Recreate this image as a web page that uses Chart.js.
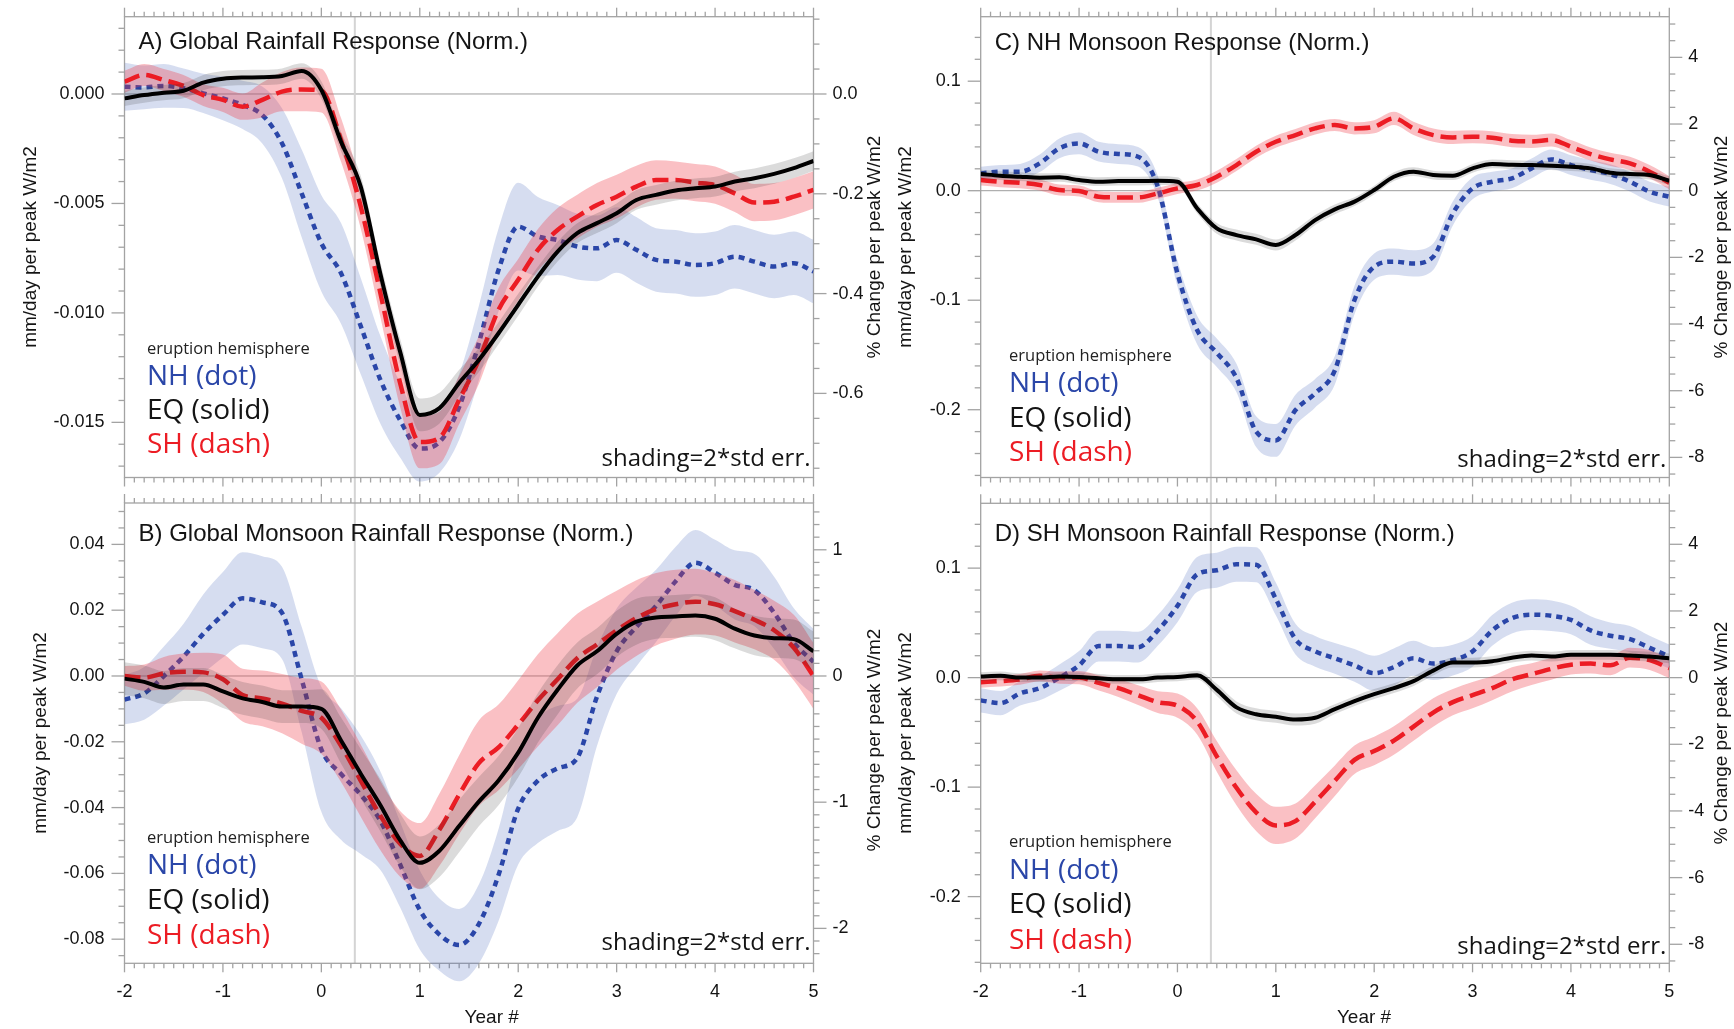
<!DOCTYPE html>
<html>
<head>
<meta charset="utf-8">
<script src="https://cdn.jsdelivr.net/npm/chart.js@4.4.1/dist/chart.umd.min.js"></script>
<style>
  body { margin: 0; background: #fff; width: 1734px; height: 1029px; overflow: hidden; position: relative; }
  canvas { position: absolute; left: 0; top: 0; }
</style>
</head>
<body>
<canvas id="panelA" width="1734" height="1029"></canvas>
<canvas id="panelB" width="1734" height="1029"></canvas>
<canvas id="panelC" width="1734" height="1029"></canvas>
<canvas id="panelD" width="1734" height="1029"></canvas>
<script>
// composite rainfall response after eruptions, split by eruption hemisphere

const YEARS = [-2.0, -1.8, -1.6, -1.4, -1.2, -1.0, -0.8, -0.6, -0.4, -0.2, 0.0, 0.2, 0.4, 0.6, 0.8, 1.0, 1.2, 1.4,
  1.6, 1.8, 2.0, 2.2, 2.4, 2.6, 2.8, 3.0, 3.2, 3.4, 3.6, 3.8, 4.0, 4.2, 4.4, 4.6, 4.8, 5.0];

// A) global rainfall
const A_NH = [0.00033, 0.00030, 0.00037, 0.00026, 0.00003, -0.00020, -0.00050, -0.00096, -0.00225, -0.00454, -0.00682,
  -0.00819, -0.01060, -0.01306, -0.01490, -0.01620, -0.01590, -0.01430, -0.01138, -0.00804, -0.00606, -0.00651, -0.00667,
  -0.00697, -0.00705, -0.00667, -0.00712, -0.00758, -0.00766, -0.00781, -0.00773, -0.00743, -0.00766, -0.00788, -0.00773, -0.00811];
const A_EQ = [-0.00020, -0.00005, 0.00006, 0.00015, 0.00052, 0.00070, 0.00075, 0.00076, 0.00082, 0.00105, 0.00018,
  -0.00218, -0.00423, -0.00822, -0.01177, -0.01466, -0.01435, -0.01320, -0.01215, -0.01093, -0.00963, -0.00834, -0.00720,
  -0.00636, -0.00590, -0.00545, -0.00484, -0.00461, -0.00441, -0.00431, -0.00423, -0.00400, -0.00385, -0.00365, -0.00339, -0.00306];
const A_SH = [0.00056, 0.00087, 0.00064, 0.00037, -0.00005, -0.00027, -0.00058, -0.00027, 0.00011, 0.00021, 0.00015,
  -0.00210, -0.00514, -0.00910, -0.01320, -0.01590, -0.01570, -0.01397, -0.01215, -0.00986, -0.00849, -0.00712, -0.00621,
  -0.00560, -0.00507, -0.00469, -0.00423, -0.00393, -0.00393, -0.00405, -0.00416, -0.00454, -0.00496, -0.00492, -0.00469, -0.00438];
const A_NH_ERR = [0.0011, 0.0010, 0.0010, 0.0009, 0.0009, 0.0010, 0.0011, 0.0013, 0.0016, 0.0020, 0.0022, 0.0023,
  0.0022, 0.0020, 0.0017, 0.0015, 0.0014, 0.0015, 0.0017, 0.0019, 0.0020, 0.0018, 0.0016, 0.0015, 0.0015, 0.0015,
  0.0015, 0.00145, 0.00145, 0.00145, 0.00145, 0.00145, 0.00145, 0.00145, 0.00145, 0.00145];
const A_EQ_ERR = [0.00035, 0.00035, 0.00035, 0.00035, 0.00035, 0.00035, 0.00035, 0.00035, 0.00035, 0.00035, 0.00040,
  0.00045, 0.00050, 0.00055, 0.00060, 0.00075, 0.00070, 0.00060, 0.00055, 0.00050, 0.00050, 0.00045, 0.00045, 0.00045,
  0.00045, 0.00045, 0.00045, 0.00045, 0.00045, 0.00045, 0.00045, 0.00045, 0.00045, 0.00045, 0.00045, 0.00045];
const A_SH_ERR = [0.0005, 0.0005, 0.0005, 0.0005, 0.0005, 0.00055, 0.0006, 0.0008, 0.0009, 0.0010, 0.0010, 0.0010,
  0.0010, 0.0011, 0.0011, 0.0012, 0.0012, 0.0011, 0.0011, 0.0010, 0.00095, 0.00095, 0.0010, 0.0010, 0.0010, 0.0010,
  0.00095, 0.0009, 0.00085, 0.00085, 0.00085, 0.00085, 0.00085, 0.00085, 0.00085, 0.00085];

// B) global monsoon rainfall
const B_NH = [-0.0072, -0.0053, 0.0000, 0.0059, 0.0128, 0.0186, 0.0236, 0.0224, 0.0192, -0.0010, -0.0223, -0.0298,
  -0.0361, -0.0440, -0.0573, -0.0711, -0.0786, -0.0818, -0.0754, -0.0605, -0.0403, -0.0318, -0.0281, -0.0249, -0.0063,
  0.0075, 0.0149, 0.0213, 0.0288, 0.0344, 0.0314, 0.0277, 0.0261, 0.0192, 0.0101, 0.0043];
const B_EQ = [-0.0008, -0.0018, -0.0035, -0.0026, -0.0026, -0.0047, -0.0068, -0.0079, -0.0093, -0.0093, -0.0100,
  -0.0196, -0.0297, -0.0393, -0.0499, -0.0568, -0.0531, -0.0456, -0.0382, -0.0318, -0.0233, -0.0127, -0.0042, 0.0032,
  0.0075, 0.0128, 0.0165, 0.0178, 0.0181, 0.0184, 0.0174, 0.0144, 0.0123, 0.0115, 0.0112, 0.0075];
const B_SH = [0.0000, -0.0005, 0.0008, 0.0013, 0.0011, -0.0010, -0.0058, -0.0068, -0.0084, -0.0106, -0.0127, -0.0212,
  -0.0318, -0.0425, -0.0510, -0.0547, -0.0467, -0.0361, -0.0265, -0.0217, -0.0148, -0.0074, -0.0010, 0.0054, 0.0096,
  0.0139, 0.0176, 0.0203, 0.0218, 0.0226, 0.0218, 0.0197, 0.0171, 0.0139, 0.0086, 0.0000];
const B_NH_ERR = [0.0075, 0.008, 0.009, 0.010, 0.012, 0.013, 0.014, 0.014, 0.014, 0.016, 0.019, 0.020, 0.018, 0.015,
  0.013, 0.012, 0.011, 0.011, 0.012, 0.014, 0.017, 0.019, 0.019, 0.018, 0.015, 0.013, 0.012, 0.011, 0.0105, 0.010,
  0.010, 0.0105, 0.011, 0.011, 0.0105, 0.010];
const B_EQ_ERR = [0.005, 0.005, 0.005, 0.005, 0.005, 0.005, 0.005, 0.005, 0.005, 0.005, 0.006, 0.007, 0.0075, 0.008,
  0.008, 0.008, 0.008, 0.008, 0.0075, 0.0075, 0.0075, 0.0075, 0.0075, 0.007, 0.007, 0.007, 0.007, 0.0065, 0.0065,
  0.0065, 0.0065, 0.006, 0.006, 0.006, 0.006, 0.006];
const B_SH_ERR = [0.003, 0.004, 0.005, 0.0055, 0.006, 0.0075, 0.008, 0.0085, 0.009, 0.010, 0.011, 0.011, 0.011, 0.0105,
  0.010, 0.010, 0.011, 0.012, 0.013, 0.013, 0.0135, 0.014, 0.014, 0.0135, 0.013, 0.012, 0.0115, 0.011, 0.0105, 0.010,
  0.0095, 0.0095, 0.009, 0.009, 0.010, 0.010];

// C) NH monsoon
const C_NH = [0.0158, 0.0174, 0.0174, 0.0250, 0.0387, 0.0432, 0.0356, 0.0335, 0.0310, 0.0037, -0.0755, -0.1272,
  -0.1480, -0.1710, -0.2200, -0.2280, -0.2003, -0.1850, -0.1640, -0.0998, -0.0694, -0.0648, -0.0664, -0.0603, -0.0207,
  0.0021, 0.0082, 0.0113, 0.0204, 0.0286, 0.0234, 0.0189, 0.0152, 0.0082, -0.0009, -0.0055];
const C_EQ = [0.0152, 0.0137, 0.0128, 0.0119, 0.0122, 0.0097, 0.0082, 0.0088, 0.0088, 0.0091, 0.0082, -0.0161,
  -0.0344, -0.0405, -0.0444, -0.0496, -0.0405, -0.0268, -0.0170, -0.0100, 0.0006, 0.0128, 0.0174, 0.0143, 0.0137,
  0.0204, 0.0244, 0.0237, 0.0234, 0.0228, 0.0219, 0.0204, 0.0164, 0.0152, 0.0143, 0.0091];
const C_SH = [0.0097, 0.0082, 0.0073, 0.0052, 0.0006, -0.0003, -0.0055, -0.0061, -0.0061, -0.0024, 0.0021, 0.0052,
  0.0128, 0.0234, 0.0356, 0.0447, 0.0508, 0.0569, 0.0600, 0.0569, 0.0584, 0.0661, 0.0569, 0.0508, 0.0487, 0.0493,
  0.0484, 0.0457, 0.0450, 0.0463, 0.0402, 0.0335, 0.0286, 0.0250, 0.0174, 0.0073];
const C_NH_ERR = [0.006, 0.006, 0.007, 0.008, 0.009, 0.010, 0.009, 0.009, 0.009, 0.010, 0.012, 0.013, 0.013, 0.013,
  0.014, 0.015, 0.014, 0.013, 0.013, 0.013, 0.012, 0.012, 0.012, 0.012, 0.011, 0.010, 0.009, 0.009, 0.009, 0.009,
  0.009, 0.009, 0.009, 0.009, 0.009, 0.009];
const C_EQ_ERR = [0.004, 0.004, 0.004, 0.004, 0.004, 0.004, 0.004, 0.004, 0.004, 0.004, 0.004, 0.0045, 0.005, 0.005,
  0.005, 0.005, 0.005, 0.0045, 0.0045, 0.004, 0.004, 0.004, 0.004, 0.004, 0.004, 0.004, 0.004, 0.004, 0.004, 0.004,
  0.004, 0.004, 0.004, 0.004, 0.004, 0.004];
const C_SH_ERR = [0.005, 0.005, 0.005, 0.005, 0.005, 0.005, 0.005, 0.005, 0.005, 0.005, 0.005, 0.005, 0.0055, 0.0055,
  0.0055, 0.0055, 0.0055, 0.0055, 0.0055, 0.0055, 0.006, 0.006, 0.006, 0.006, 0.006, 0.006, 0.006, 0.006, 0.006, 0.006,
  0.006, 0.006, 0.006, 0.006, 0.006, 0.006];

// D) SH monsoon
const D_NH = [-0.0208, -0.0233, -0.0144, -0.0096, 0.0000, 0.0112, 0.0288, 0.0288, 0.0278, 0.0431, 0.0655, 0.0942,
  0.0981, 0.1035, 0.1030, 0.0719, 0.0351, 0.0240, 0.0176, 0.0112, 0.0040, 0.0096, 0.0176, 0.0128, 0.0160, 0.0240,
  0.0431, 0.0543, 0.0575, 0.0565, 0.0527, 0.0431, 0.0383, 0.0351, 0.0272, 0.0192];
const D_EQ = [0.0010, 0.0016, 0.0000, 0.0000, 0.0010, 0.0006, -0.0006, -0.0016, -0.0016, 0.0000, 0.0006, 0.0022,
  -0.0112, -0.0272, -0.0335, -0.0358, -0.0383, -0.0367, -0.0288, -0.0214, -0.0150, -0.0096, -0.0032, 0.0064, 0.0137,
  0.0137, 0.0150, 0.0182, 0.0201, 0.0192, 0.0208, 0.0208, 0.0208, 0.0201, 0.0192, 0.0176];
const D_SH = [-0.0042, -0.0032, -0.0016, 0.0016, 0.0000, 0.0000, -0.0048, -0.0096, -0.0160, -0.0224, -0.0256, -0.0399,
  -0.0719, -0.1006, -0.1230, -0.1350, -0.1310, -0.1134, -0.0942, -0.0751, -0.0671, -0.0575, -0.0447, -0.0319, -0.0224,
  -0.0160, -0.0096, -0.0016, 0.0032, 0.0080, 0.0118, 0.0128, 0.0112, 0.0182, 0.0160, 0.0086];
const D_NH_ERR = [0.011, 0.011, 0.011, 0.011, 0.012, 0.013, 0.014, 0.014, 0.014, 0.014, 0.015, 0.016, 0.016, 0.016,
  0.016, 0.015, 0.014, 0.014, 0.014, 0.015, 0.016, 0.017, 0.016, 0.015, 0.014, 0.014, 0.014, 0.014, 0.014, 0.014,
  0.013, 0.013, 0.012, 0.012, 0.011, 0.011];
const D_EQ_ERR = [0.004, 0.004, 0.004, 0.004, 0.004, 0.004, 0.004, 0.004, 0.004, 0.004, 0.004, 0.004, 0.0055, 0.0055,
  0.0055, 0.0055, 0.0055, 0.0055, 0.0045, 0.0045, 0.0045, 0.0045, 0.0045, 0.0045, 0.0045, 0.0045, 0.0045, 0.0045,
  0.0045, 0.0045, 0.0045, 0.0045, 0.0045, 0.0045, 0.0045, 0.0045];
const D_SH_ERR = [0.005, 0.005, 0.005, 0.005, 0.0055, 0.006, 0.007, 0.008, 0.009, 0.010, 0.011, 0.012, 0.014, 0.016,
  0.017, 0.017, 0.016, 0.015, 0.014, 0.013, 0.013, 0.013, 0.013, 0.013, 0.012, 0.012, 0.011, 0.011, 0.010, 0.010,
  0.009, 0.009, 0.009, 0.009, 0.009, 0.009];

// axes
const X_RANGE = [-2, 5];
const X_TICKS = ['-2', '-1', '0', '1', '2', '3', '4', '5'];
const MARK_YEAR = 0.34;
const A_Y_RANGE = [-0.017519, 0.003531];
const B_Y_RANGE = [-0.08733, 0.05258];
const C_Y_RANGE = [-0.2619, 0.1589];
const D_Y_RANGE = [-0.2609, 0.1592];
const A_LEFT_TICKS = ['0.000', '-0.005', '-0.010', '-0.015'];
const A_RIGHT_TICKS = ['0.0', '-0.2', '-0.4', '-0.6'];
const B_LEFT_TICKS = ['0.04', '0.02', '0.00', '-0.02', '-0.04', '-0.06', '-0.08'];
const B_RIGHT_TICKS = ['1', '0', '-1', '-2'];
const CD_LEFT_TICKS = ['0.1', '0.0', '-0.1', '-0.2'];
const CD_RIGHT_TICKS = ['4', '2', '0', '-2', '-4', '-6', '-8'];
// % change per mm/day on each panel's right axis
const A_RIGHT_RATIO = 43.87;
const B_RIGHT_RATIO = 26.07;
const CD_RIGHT_RATIO = 32.85;

const TITLES = ['A) Global Rainfall Response (Norm.)', 'B) Global Monsoon Rainfall Response (Norm.)',
  'C) NH Monsoon Response (Norm.)', 'D) SH Monsoon Rainfall Response (Norm.)'];
const LEFT_TITLE = 'mm/day per peak W/m2';
const RIGHT_TITLE = '% Change per peak W/m2';
const X_TITLE = 'Year #';
const LEGEND_HEAD = 'eruption hemisphere';
const LEGEND_ITEMS = ['NH (dot)', 'EQ (solid)', 'SH (dash)'];
const SHADING_NOTE = 'shading=2*std err.';

const NH_COLOR = '#2a46a8', EQ_COLOR = '#000000', SH_COLOR = '#ec1c24';
const NH_BAND = 'rgba(70, 100, 185, 0.22)';
const EQ_BAND = 'rgba(40, 40, 40, 0.17)';
const SH_BAND = 'rgba(240, 60, 70, 0.32)';
const AXIS_COLOR = '#a3a3a3';
const TEXT_COLOR = '#141414';
const SANS = '"Liberation Sans", Arial, Helvetica, sans-serif';
const HUMANIST = '"Open Sans", "Noto Sans", sans-serif';

const W = 1734, H = 1029, OVER = 30;

function seg(ctx, x1, y1, x2, y2) {
  ctx.beginPath();
  ctx.moveTo(x1, y1);
  ctx.lineTo(x2, y2);
  ctx.stroke();
}

function tickList(lo, hi, step, labels) {
  const majors = labels.map(Number);
  const out = [];
  for (let i = Math.ceil(lo / step - 1e-6); i * step <= hi + 1e-9; i++) {
    const v = i * step;
    out.push({ v, major: majors.some(m => Math.abs(m - v) < step * 0.01) });
  }
  return out;
}

function vtext(ctx, s, x, y) {
  ctx.save();
  ctx.translate(x, y);
  ctx.rotate(-Math.PI / 2);
  ctx.textAlign = 'center';
  ctx.fillText(s, 0, 0);
  ctx.restore();
}

// frame, ticks and all the text of one panel
const decor = {
  id: 'decor',
  beforeDatasetsDraw(chart, _args, o) {
    const { ctx } = chart;
    const { x, y, y2 } = chart.scales;
    const L = x.getPixelForValue(X_RANGE[0]), R = x.getPixelForValue(X_RANGE[1]);
    const T = y.getPixelForValue(o.yRange[1]), B = y.getPixelForValue(o.yRange[0]);
    ctx.save();

    ctx.strokeStyle = '#9c9c9c';
    ctx.lineWidth = 1;
    const y0 = y.getPixelForValue(0);
    seg(ctx, L, y0, R, y0);

    ctx.strokeStyle = '#d4d4d4';
    ctx.lineWidth = 2;
    const xm = x.getPixelForValue(MARK_YEAR);
    seg(ctx, xm, T - o.markUp, xm, B + o.markDown);

    ctx.strokeStyle = AXIS_COLOR;
    ctx.lineWidth = 1.3;
    ctx.strokeRect(L, T, R - L, B - T);
    for (const t of tickList(X_RANGE[0], X_RANGE[1], 0.1, X_TICKS)) {
      const px = x.getPixelForValue(t.v);
      const len = t.major ? 9 : 5;
      seg(ctx, px, B, px, B + len);
      seg(ctx, px, T, px, T - len);
    }
    for (const t of tickList(o.yRange[0], o.yRange[1], o.leftStep, o.leftTicks)) {
      const py = y.getPixelForValue(t.v);
      seg(ctx, L, py, L - (t.major ? 13 : 6), py);
    }
    for (const t of tickList(o.yRange[0] * o.ratio, o.yRange[1] * o.ratio, o.rightStep, o.rightTicks)) {
      const py = y2.getPixelForValue(t.v);
      seg(ctx, R, py, R + (t.major ? 13 : 6), py);
    }

    ctx.fillStyle = TEXT_COLOR;
    ctx.textBaseline = 'middle';
    ctx.font = '18px ' + SANS;
    ctx.textAlign = 'right';
    o.leftTicks.forEach(s => ctx.fillText(s, L - 20, y.getPixelForValue(Number(s))));
    ctx.textAlign = 'left';
    o.rightTicks.forEach(s => ctx.fillText(s, R + 19, y2.getPixelForValue(Number(s))));
    if (o.xTitle) {
      ctx.textAlign = 'center';
      X_TICKS.forEach(s => ctx.fillText(s, x.getPixelForValue(Number(s)), B + 28.5));
      ctx.font = '19px ' + SANS;
      ctx.fillText(X_TITLE, o.xTitle[0], o.xTitle[1]);
    }
    ctx.font = '19px ' + SANS;
    vtext(ctx, LEFT_TITLE, o.leftTitle[0], o.leftTitle[1]);
    vtext(ctx, RIGHT_TITLE, o.rightTitle[0], o.rightTitle[1]);

    ctx.font = '24px ' + SANS;
    ctx.textAlign = 'left';
    ctx.fillText(o.title, L + 14, o.titleY);

    const [lx, headY, nhY, eqY, shY, noteY] = o.legend;
    ctx.font = '16.5px ' + HUMANIST;
    ctx.fillStyle = '#222';
    ctx.fillText(LEGEND_HEAD, lx, headY);
    ctx.font = '28px ' + HUMANIST;
    ctx.fillStyle = NH_COLOR;
    ctx.fillText(LEGEND_ITEMS[0], lx, nhY);
    ctx.fillStyle = TEXT_COLOR;
    ctx.fillText(LEGEND_ITEMS[1], lx, eqY);
    ctx.fillStyle = SH_COLOR;
    ctx.fillText(LEGEND_ITEMS[2], lx, shY);
    ctx.font = '24px ' + HUMANIST;
    ctx.fillStyle = TEXT_COLOR;
    ctx.textAlign = 'right';
    ctx.fillText(SHADING_NOTE, R - 3, noteY);

    ctx.restore();
  }
};

function points(mean, err, sign) {
  return YEARS.map((yr, i) => ({ x: yr, y: err ? mean[i] + sign * err[i] : mean[i] }));
}

function makePanel(id, p) {
  const series = [
    { mean: p.nh, err: p.nhErr, color: NH_COLOR, band: NH_BAND, dash: [6, 5], width: 4.5, order: 5 },
    { mean: p.sh, err: p.shErr, color: SH_COLOR, band: SH_BAND, dash: [16, 7], width: 4.5, order: 3 },
    { mean: p.eq, err: p.eqErr, color: EQ_COLOR, band: EQ_BAND, dash: [], width: 4, order: 1 }
  ];
  const common = { pointRadius: 0, cubicInterpolationMode: 'monotone' };
  const datasets = [];
  series.forEach(s => {
    datasets.push({ ...common, data: points(s.mean, s.err, -1), borderWidth: 0,
      borderColor: 'rgba(0,0,0,0)', fill: false, order: s.order + 1 });
    datasets.push({ ...common, data: points(s.mean, s.err, 1), borderWidth: 0,
      borderColor: 'rgba(0,0,0,0)', backgroundColor: s.band, fill: '-1', order: s.order + 1 });
    datasets.push({ ...common, data: points(s.mean), borderColor: s.color, borderWidth: s.width,
      borderDash: s.dash, borderCapStyle: 'butt', borderJoinStyle: 'round', fill: false, order: s.order });
  });

  // plot area reaches a little past the frame so the bands are not cut at the frame
  const [fl, ft, fr, fb] = p.frame;
  const overTop = Math.min(OVER, Math.floor(ft));
  const overBot = Math.min(OVER, Math.floor(H - fb));
  const pxPerUnit = (fb - ft) / (p.yRange[1] - p.yRange[0]);
  const yMin = p.yRange[0] - overBot / pxPerUnit;
  const yMax = p.yRange[1] + overTop / pxPerUnit;

  return new Chart(document.getElementById(id), {
    type: 'line',
    data: { datasets },
    options: {
      responsive: false,
      animation: false,
      events: [],
      layout: { padding: { left: fl, right: W - fr, top: ft - overTop, bottom: H - fb - overBot } },
      scales: {
        x: { type: 'linear', min: X_RANGE[0], max: X_RANGE[1], display: false },
        y: { type: 'linear', min: yMin, max: yMax, display: false },
        y2: { type: 'linear', position: 'right', min: yMin * p.ratio, max: yMax * p.ratio, display: false }
      },
      plugins: {
        legend: { display: false },
        tooltip: { enabled: false },
        decor: p
      }
    },
    plugins: [decor]
  });
}

makePanel('panelA', {
  nh: A_NH, eq: A_EQ, sh: A_SH, nhErr: A_NH_ERR, eqErr: A_EQ_ERR, shErr: A_SH_ERR,
  frame: [124.5, 16.7, 813.5, 477.5], yRange: A_Y_RANGE, ratio: A_RIGHT_RATIO,
  leftTicks: A_LEFT_TICKS, leftStep: 0.001, rightTicks: A_RIGHT_TICKS, rightStep: 0.05,
  title: TITLES[0], titleY: 42.7, leftTitle: [30.5, 247], rightTitle: [875, 247],
  legend: [147, 349, 377, 411, 445, 459], markUp: 0, markDown: 26
});
makePanel('panelB', {
  nh: B_NH, eq: B_EQ, sh: B_SH, nhErr: B_NH_ERR, eqErr: B_EQ_ERR, shErr: B_SH_ERR,
  frame: [124.5, 503, 813.5, 963.3], yRange: B_Y_RANGE, ratio: B_RIGHT_RATIO,
  leftTicks: B_LEFT_TICKS, leftStep: 0.005, rightTicks: B_RIGHT_TICKS, rightStep: 0.1,
  title: TITLES[1], titleY: 534, leftTitle: [41, 733], rightTitle: [875, 740],
  legend: [147, 838.4, 866.4, 901.3, 936.3, 943.3], markUp: 0, markDown: 0, xTitle: [491.7, 1018]
});
makePanel('panelC', {
  nh: C_NH, eq: C_EQ, sh: C_SH, nhErr: C_NH_ERR, eqErr: C_EQ_ERR, shErr: C_SH_ERR,
  frame: [980.7, 16.7, 1669.3, 477.5], yRange: C_Y_RANGE, ratio: CD_RIGHT_RATIO,
  leftTicks: CD_LEFT_TICKS, leftStep: 0.02, rightTicks: CD_RIGHT_TICKS, rightStep: 0.5,
  title: TITLES[2], titleY: 43, leftTitle: [906, 247], rightTitle: [1722, 247],
  legend: [1009, 356, 384, 419.3, 453.3, 460], markUp: 0, markDown: 26
});
makePanel('panelD', {
  nh: D_NH, eq: D_EQ, sh: D_SH, nhErr: D_NH_ERR, eqErr: D_EQ_ERR, shErr: D_SH_ERR,
  frame: [980.7, 503.3, 1669.3, 963.3], yRange: D_Y_RANGE, ratio: CD_RIGHT_RATIO,
  leftTicks: CD_LEFT_TICKS, leftStep: 0.02, rightTicks: CD_RIGHT_TICKS, rightStep: 0.5,
  title: TITLES[3], titleY: 534, leftTitle: [906, 733], rightTitle: [1722, 733],
  legend: [1009, 842, 871, 905, 941, 947], markUp: 0, markDown: 0, xTitle: [1364, 1018]
});
</script>
</body>
</html>
